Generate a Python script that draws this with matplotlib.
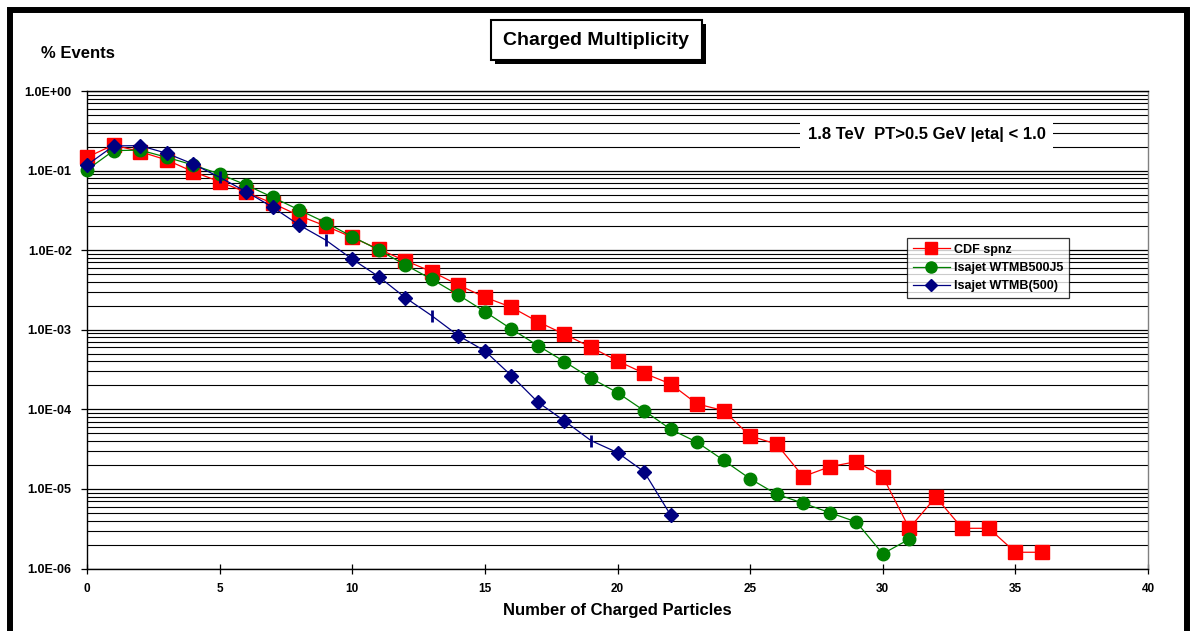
import matplotlib
matplotlib.use("Agg")
import matplotlib.pyplot as plt
from matplotlib.patches import Rectangle
from matplotlib.lines import Line2D
from matplotlib.ticker import LogLocator, FixedLocator, FixedFormatter, NullFormatter

plt.rcParams['font.family'] = ['Liberation Sans', 'DejaVu Sans']
plt.rcParams['font.weight'] = 'bold'

# ---------------- data ----------------
cdf_x = list(range(0, 37))
cdf_y = [0.147, 0.210, 0.173, 0.136, 0.0969, 0.0726, 0.0534, 0.0388, 0.0271, 0.0201,
         0.0145, 0.01026, 0.00738, 0.00537, 0.00366, 0.00256, 0.00192, 0.00126, 0.000878,
         0.000603, 0.000406, 0.000284, 0.000209, 0.000117, 9.64e-5, 4.63e-5, 3.65e-5,
         1.43e-5, 1.9e-5, 2.2e-5, 1.43e-5, 3.2e-6, 7.9e-6, 3.2e-6, 3.2e-6, 1.6e-6, 1.6e-6]

j5_x = list(range(0, 32))
j5_y = [0.102, 0.178, 0.181, 0.147, 0.1175, 0.0906, 0.0659, 0.0462, 0.0320, 0.0222,
        0.0148, 0.01006, 0.00652, 0.00431, 0.00274, 0.00169, 0.00102, 0.000632, 0.000397,
        0.000246, 0.000162, 9.64e-5, 5.63e-5, 3.86e-5, 2.29e-5, 1.34e-5, 8.58e-6,
        6.61e-6, 5.04e-6, 3.85e-6, 1.53e-6, 2.34e-6]

wt_x = list(range(0, 23))
wt_y = [0.1175, 0.204, 0.206, 0.165, 0.121, 0.0824, 0.0543, 0.0346, 0.0207, 0.0134,
        0.00769, 0.00465, 0.00253, 0.00150, 0.000843, 0.000542, 0.000265, 0.000123,
        7.15e-5, 4.05e-5, 2.86e-5, 1.65e-5, 4.71e-6]
# points of the WTMB(500) series drawn with a vertical-bar marker instead of a diamond
wt_bar_idx = [5, 9, 13, 19]

series_names = ["CDF spnz", "Isajet WTMB500J5", "Isajet WTMB(500)"]
x_ticks = [0, 5, 10, 15, 20, 25, 30, 35, 40]
y_ticks = [1e-6, 1e-5, 1e-4, 1e-3, 1e-2, 1e-1, 1.0]
y_tick_labels = ["1.0E-06", "1.0E-05", "1.0E-04", "1.0E-03", "1.0E-02", "1.0E-01", "1.0E+00"]

title_text = "Charged Multiplicity"
y_title = "% Events"
x_title = "Number of Charged Particles"
note_text = "1.8 TeV  PT>0.5 GeV |eta| < 1.0"

RED = "#FF0000"
GREEN = "#008000"
NAVY = "#000080"

# ---------------- figure ----------------
W, H = 1191, 631
fig = plt.figure(figsize=(W / 100, H / 100), dpi=100)
fig.patch.set_facecolor("white")

def fx(px):
    return px / W

def fy(py):
    return 1 - py / H

ax = fig.add_axes([fx(87), fy(568.5), fx(1148) - fx(87), fy(91) - fy(568.5)])
ax.set_yscale("log")
ax.set_xlim(0, 40)
ax.set_ylim(1e-6, 1.0)

# gridlines
ax.yaxis.set_major_locator(FixedLocator(y_ticks))
ax.yaxis.set_major_formatter(FixedFormatter(y_tick_labels))
ax.yaxis.set_minor_locator(LogLocator(base=10, subs=range(2, 10), numticks=20))
ax.yaxis.set_minor_formatter(NullFormatter())
ax.grid(axis="y", which="major", color="black", lw=0.9, zorder=0)
ax.grid(axis="y", which="minor", color="black", lw=0.8, zorder=0)
ax.grid(axis="x", visible=False)
ax.set_axisbelow(True)

ax.set_xticks(x_ticks)
ax.set_xticklabels([str(v) for v in x_ticks])
ax.tick_params(axis="x", which="major", direction="inout", length=7, width=0.9,
               pad=7, labelsize=8.5, colors="black")
ax.tick_params(axis="y", which="major", direction="out", length=4, width=0.9,
               pad=7, labelsize=9)
ax.tick_params(axis="y", which="minor", length=0)
for lab in ax.get_xticklabels() + ax.get_yticklabels():
    lab.set_fontweight("bold")

for s in ["left", "bottom", "top"]:
    ax.spines[s].set_color("black")
    ax.spines[s].set_linewidth(1.0)
ax.spines["right"].set_color("#808080")
ax.spines["right"].set_linewidth(1.0)

# series
ax.plot(cdf_x, cdf_y, color=RED, lw=0.9, marker="s", ms=9.5, mfc=RED, mec=RED,
        zorder=3, clip_on=False)
ax.plot(j5_x, j5_y, color=GREEN, lw=0.9, marker="o", ms=9, mfc=GREEN, mec=GREEN,
        zorder=4, clip_on=False)
dia_idx = [i for i in range(len(wt_x)) if i not in wt_bar_idx]
ax.plot(wt_x, wt_y, color=NAVY, lw=0.9, marker="D", ms=7, mfc=NAVY, mec=NAVY,
        markevery=dia_idx, zorder=5, clip_on=False)
ax.plot([wt_x[i] for i in wt_bar_idx], [wt_y[i] for i in wt_bar_idx], ls="none",
        marker="|", ms=9, mew=2, color=NAVY, zorder=5)

# legend
handles = [
    Line2D([], [], color=RED, lw=0.9, marker="s", ms=8, mfc=RED, mec=RED),
    Line2D([], [], color=GREEN, lw=0.9, marker="o", ms=8, mfc=GREEN, mec=GREEN),
    Line2D([], [], color=NAVY, lw=0.9, marker="D", ms=6, mfc=NAVY, mec=NAVY),
]
leg = ax.legend(handles, series_names, loc="upper left",
                bbox_to_anchor=((907 - 87) / 1061, 1 - (238 - 91) / 477.5),
                frameon=True, fancybox=False, shadow=False, numpoints=1,
                handlelength=3.0, handletextpad=0.3, borderpad=0.45, labelspacing=0.5,
                borderaxespad=0, prop={"weight": "bold", "size": 9})
leg.get_frame().set_edgecolor("black")
leg.get_frame().set_linewidth(0.9)
leg.set_zorder(10)

# note box
ax.text((926.5 - 87) / 1061, 1 - (134 - 91) / 477.5, note_text, transform=ax.transAxes,
        ha="center", va="center", fontsize=12, fontweight="bold", zorder=10,
        bbox=dict(boxstyle="square,pad=0.45", fc="white", ec="none"))

# axis titles
fig.text(fx(41), fy(54), y_title, ha="left", va="center", fontsize=12, fontweight="bold")
fig.text(fx(617.5), fy(611), x_title, ha="center", va="center", fontsize=12, fontweight="bold")

# chart title box with shadow
bx0, bx1, by0, by1 = 490.5, 701.5, 20, 60
fig.patches.append(Rectangle((fx(bx0 + 4), fy(by1 + 4)), fx(bx1) - fx(bx0), fy(by0) - fy(by1),
                             transform=fig.transFigure, fc="black", ec="none", zorder=5))
fig.patches.append(Rectangle((fx(bx0), fy(by1)), fx(bx1) - fx(bx0), fy(by0) - fy(by1),
                             transform=fig.transFigure, fc="white", ec="black", lw=1.5, zorder=6))
fig.text(fx(596), fy(40.5), title_text, ha="center", va="center", fontsize=14,
         fontweight="bold", zorder=7)

# outer thick frame (bottom edge lies outside the picture)
fig.patches.append(Rectangle((fx(10), -0.05), fx(1187) - fx(10), fy(10) + 0.05,
                             transform=fig.transFigure, fc="none", ec="black", lw=4.3,
                             zorder=8, clip_on=False))

fig.savefig("out.png", dpi=100)
